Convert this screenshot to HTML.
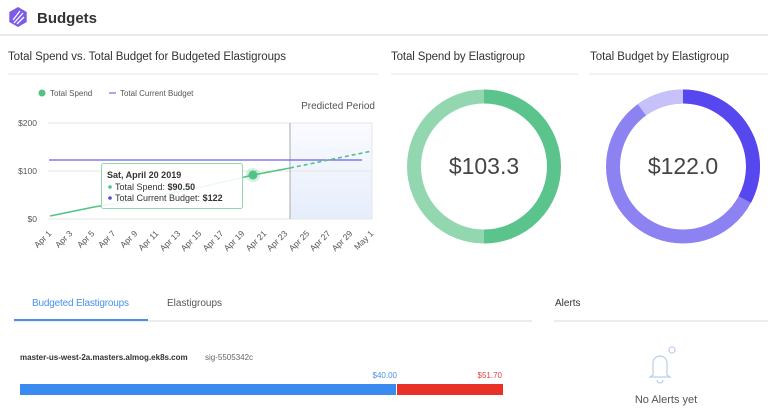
<!DOCTYPE html>
<html><head><style>
body{margin:0;width:768px;height:414px;background:#fff;font-family:"Liberation Sans",sans-serif;overflow:hidden;position:relative;color:#333}
.a{position:absolute}
</style></head><body>
<svg class="a" style="left:0;top:0" width="768" height="414">
<g transform="translate(18,17)"><polygon points="0,-10 8.7,-5 8.7,5 0,10 -8.7,5 -8.7,-5" fill="#7b5ce6"/>
<path d="M-5,3 L2,-6 M-4,6 L5,-4 M-1,7 L6,0" stroke="#fff" stroke-width="1.3"/></g>
<text x="37" y="23" font-size="15" font-weight="bold" fill="#333">Budgets</text>
<line x1="0" y1="35" x2="768" y2="35" stroke="#e3e3e3" stroke-width="1.5"/>
<text x="8" y="60" font-size="11.5" fill="#333" textLength="278">Total Spend vs. Total Budget for Budgeted Elastigroups</text>
<line x1="8" y1="74" x2="378" y2="74" stroke="#e6e6e6"/>
<text x="391" y="60" font-size="11.5" fill="#333" textLength="134">Total Spend by Elastigroup</text>
<line x1="391" y1="74" x2="578" y2="74" stroke="#e6e6e6"/>
<text x="590" y="60" font-size="11.5" fill="#333" textLength="139">Total Budget by Elastigroup</text>
<line x1="589" y1="74" x2="768" y2="74" stroke="#e6e6e6"/>
<circle cx="42" cy="93" r="3.5" fill="#52c285"/>
<text x="50" y="96" font-size="8" fill="#555">Total Spend</text>
<line x1="109" y1="93" x2="116" y2="93" stroke="#8c86f0" stroke-width="1.5"/>
<text x="120" y="96" font-size="8" fill="#555">Total Current Budget</text>
<text x="375" y="109" font-size="10" fill="#555" text-anchor="end">Predicted Period</text>
<defs><linearGradient id="g" x1="0" y1="0" x2="0" y2="1"><stop offset="0" stop-color="#fafbff"/><stop offset="1" stop-color="#e6edfb"/></linearGradient></defs>
<rect x="290" y="123" width="82" height="96" fill="url(#g)"/>
<g stroke="#e6e6e6" stroke-width="1"><line x1="48" y1="123" x2="372" y2="123"/><line x1="48" y1="171" x2="372" y2="171"/><line x1="48" y1="219" x2="372" y2="219"/><line x1="372" y1="123" x2="372" y2="219"/></g>
<g fill="#555" font-size="8.5" text-anchor="end"><text x="37" y="126">$200</text><text x="37" y="174">$100</text><text x="37" y="222">$0</text></g>
<line x1="290" y1="123" x2="290" y2="219" stroke="#aaa" stroke-width="1"/>
<line x1="49" y1="160" x2="362" y2="160" stroke="#6a5ef0" stroke-width="1.2"/>
<path d="M50,216 L94,207 C140,200 200,188 253,175 L290,168" stroke="#52c285" stroke-width="1.6" fill="none"/>
<path d="M290,168 L372,151" stroke="#52c285" stroke-width="1.6" fill="none" stroke-dasharray="4,3"/>
<circle cx="253" cy="175" r="7" fill="#52c285" opacity="0.25"/><circle cx="253" cy="175" r="4.5" fill="#52c285"/>
<g fill="#555" font-size="8.5">
<text transform="translate(52,234) rotate(-45)" text-anchor="end">Apr 1</text>
<text transform="translate(73,234) rotate(-45)" text-anchor="end">Apr 3</text>
<text transform="translate(95,234) rotate(-45)" text-anchor="end">Apr 5</text>
<text transform="translate(116,234) rotate(-45)" text-anchor="end">Apr 7</text>
<text transform="translate(138,234) rotate(-45)" text-anchor="end">Apr 9</text>
<text transform="translate(159,234) rotate(-45)" text-anchor="end">Apr 11</text>
<text transform="translate(181,234) rotate(-45)" text-anchor="end">Apr 13</text>
<text transform="translate(202,234) rotate(-45)" text-anchor="end">Apr 15</text>
<text transform="translate(224,234) rotate(-45)" text-anchor="end">Apr 17</text>
<text transform="translate(245,234) rotate(-45)" text-anchor="end">Apr 19</text>
<text transform="translate(267,234) rotate(-45)" text-anchor="end">Apr 21</text>
<text transform="translate(288,234) rotate(-45)" text-anchor="end">Apr 23</text>
<text transform="translate(310,234) rotate(-45)" text-anchor="end">Apr 25</text>
<text transform="translate(331,234) rotate(-45)" text-anchor="end">Apr 27</text>
<text transform="translate(353,234) rotate(-45)" text-anchor="end">Apr 29</text>
<text transform="translate(374,234) rotate(-45)" text-anchor="end">May 1</text>
</g>
<rect x="101.5" y="163.5" width="141" height="45" rx="2" fill="#fff" fill-opacity="0.9" stroke="#8fd9b0"/>
<text x="107" y="178" font-size="9" font-weight="bold" fill="#333">Sat, April 20 2019</text>
<circle cx="110" cy="187" r="1.8" fill="#52c285"/><text x="115" y="190" font-size="9" fill="#333">Total Spend: <tspan font-weight="bold">$90.50</tspan></text>
<circle cx="110" cy="198" r="1.8" fill="#5b48e8"/><text x="115" y="201" font-size="9" fill="#333">Total Current Budget: <tspan font-weight="bold">$122</tspan></text>
<g fill="none" stroke-width="14">
<path d="M484,96.5 A70,70 0 0 0 484,236.5" stroke="#93d7b0"/>
<path d="M484,96.5 A70,70 0 0 1 484,236.5" stroke="#5bc48c"/>
</g>
<text x="484" y="174" font-size="23" fill="#444" text-anchor="middle">$103.3</text>
<g fill="none" stroke-width="14" transform="translate(683,166.5)">
<circle r="70" stroke="#8c82f2"/>
<path d="M0,-70 A70,70 0 0 1 61.8,32.9" stroke="#5647ee"/>
<path d="M-41.1,-56.6 A70,70 0 0 1 0,-70" stroke="#c6c1f8"/>
</g>
<text x="683" y="174" font-size="23" fill="#444" text-anchor="middle">$122.0</text>
<text x="32" y="306" font-size="10" fill="#4a90e8" textLength="97">Budgeted Elastigroups</text>
<text x="167" y="306" font-size="10" fill="#555">Elastigroups</text>
<line x1="14" y1="321" x2="532" y2="321" stroke="#e6e6e6" stroke-width="1.5"/>
<line x1="14" y1="320" x2="148" y2="320" stroke="#4a90e8" stroke-width="2"/>
<text x="555" y="306" font-size="10" fill="#333">Alerts</text>
<line x1="554" y1="321" x2="768" y2="321" stroke="#e6e6e6" stroke-width="1.5"/>
<text x="20" y="360" font-size="8" font-weight="bold" fill="#333">master-us-west-2a.masters.almog.ek8s.com</text>
<text x="205" y="360" font-size="8" fill="#666">sig-5505342c</text>
<text x="397" y="378" font-size="8" fill="#4a90e8" text-anchor="end">$40.00</text>
<text x="502" y="378" font-size="8" fill="#e8403a" text-anchor="end">$51.70</text>
<rect x="20" y="384" width="376" height="11" fill="#3b8af0"/>
<rect x="397" y="384" width="106" height="11" fill="#e83227"/>
<g fill="none" stroke="#b9cfea" stroke-width="1.2"><path d="M653,375 L653,363 A7,7 0 0 1 667,363 L667,375 L670,377 L650,377 Z"/><circle cx="672" cy="350" r="3" fill="#fff"/><path d="M657,380 A3,3 0 0 0 663,380"/></g>
<text x="666" y="403" font-size="11" fill="#555" text-anchor="middle">No Alerts yet</text>
</svg>
</body></html>
